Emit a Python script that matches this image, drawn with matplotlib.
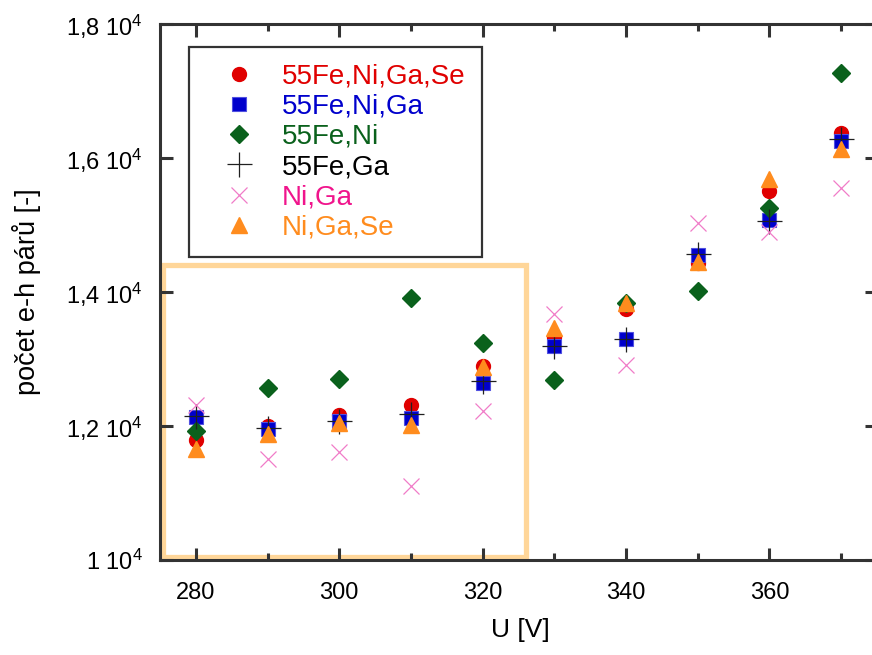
import matplotlib.pyplot as plt
from matplotlib.patches import Rectangle

plt.rcParams['font.family'] = ['Liberation Sans', 'DejaVu Sans']
plt.rcParams['mathtext.default'] = 'regular'

U = [280, 290, 300, 310, 320, 330, 340, 350, 360, 370]

fe_ni_ga_se = [11790, 12000, 12170, 12310, 12900, 13330, 13740, 14430, 15510, 16370]
fe_ni_ga = [12140, 11950, 12070, 12115, 12640, 13200, 13295, 14550, 15070, 16260]
fe_ni = [11930, 12570, 12700, 13915, 13245, 12690, 13840, 14020, 15250, 17265]
fe_ga = [12150, 11965, 12075, 12180, 12670, 13195, 13300, 14565, 15065, 16280]
ni_ga = [12310, 11505, 11615, 11105, 12230, 13670, 12915, 15035, 14900, 15545]
ni_ga_se = [11655, 11885, 12045, 12010, 12875, 13460, 13840, 14450, 15690, 16135]

labels = ['55Fe,Ni,Ga,Se', '55Fe,Ni,Ga', '55Fe,Ni', '55Fe,Ga', 'Ni,Ga', 'Ni,Ga,Se']
yticks = [10000, 12000, 14000, 16000, 18000]
ytick_labels = ['1 10$^4$', '1,2 10$^4$', '1,4 10$^4$', '1,6 10$^4$', '1,8 10$^4$']

fig = plt.figure(figsize=(8.72, 6.55), dpi=100)
ax = fig.add_axes([160/872, 1-560/655, 717/872, 536/655])

ax.plot(U, fe_ni_ga_se, 'o', color='#E00000', ms=10, mec='#E00000', label=labels[0])
ax.plot(U, fe_ni_ga, 's', color='#0000CC', ms=10.5, mec='#5050E0', mew=0.8, label=labels[1])
ax.plot(U, fe_ni, 'D', color='#0A611C', ms=9.3, mec='#0A611C', label=labels[2])
ax.plot(U, fe_ga, '+', color='#202020', ms=18, mew=0.9, label=labels[3])
ax.plot(U, ni_ga, 'x', color='#F07CC8', ms=12, mew=0.9, label=labels[4])
ax.plot(U, ni_ga_se, '^', color='#FF8C1E', ms=11, mec='#FF8C1E', label=labels[5])

# zvyrazneny usek
ax.add_patch(Rectangle((275.4, 10050), 50.7, 4350, fill=False,
                       ec='#FFD699', lw=3.8, zorder=1))

ax.set_xlim(275, 375)
ax.set_ylim(10000, 18000)
ax.set_xticks([280, 300, 320, 340, 360])
ax.set_xticks([290, 310, 330, 350, 370], minor=True)
ax.set_yticks(yticks)
ax.set_yticklabels(ytick_labels)

for s in ax.spines.values():
    s.set_linewidth(2.2)
    s.set_color('#333333')
ax.tick_params(which='both', direction='in', top=True, right=True,
               width=2.2, color='#333333', labelsize=17)
ax.tick_params(which='major', length=9)
ax.tick_params(which='minor', length=5)
ax.tick_params(axis='x', pad=16)
ax.tick_params(axis='y', pad=12.5)

ax.set_xlabel('U [V]', fontsize=19)
ax.set_ylabel('počet e-h párů [-]', fontsize=19.5)
ax.xaxis.set_label_coords(0.503, -0.108)
ax.yaxis.set_label_coords(-0.166, 0.501)

leg = ax.legend(loc='upper left', bbox_to_anchor=(189/872, 1-47/655),
                bbox_transform=fig.transFigure, borderaxespad=0,
                numpoints=1, fontsize=20, handlelength=2.4, handletextpad=0.35,
                labelspacing=0.15, borderpad=0.6, fancybox=False,
                labelcolor=['#E00000', '#0000CC', '#0A611C', '#000000', '#F0148C', '#FF8C1E'])
leg.get_frame().set_edgecolor('black')
leg.get_frame().set_linewidth(1.6)

fig.savefig('out.png', dpi=100)
